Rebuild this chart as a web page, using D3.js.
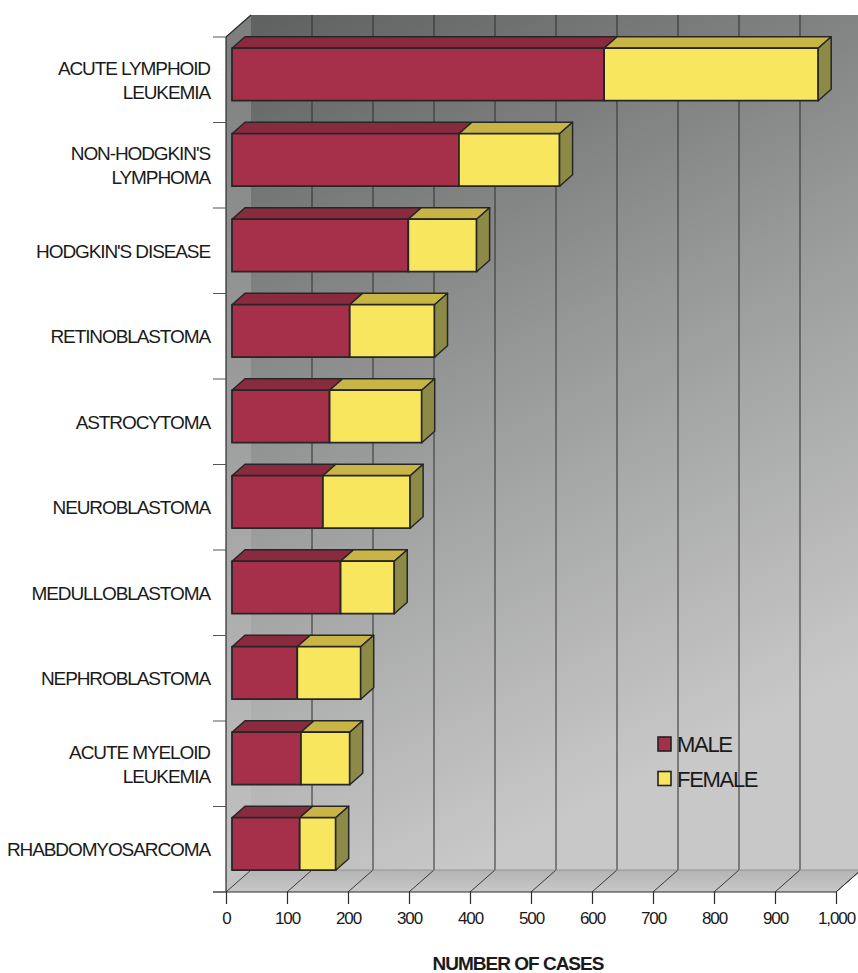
<!DOCTYPE html>
<html>
<head>
<meta charset="utf-8">
<script src="https://cdn.jsdelivr.net/npm/d3@7"></script>
<style>
  html, body { margin: 0; padding: 0; background: #ffffff; }
  svg { display: block; font-family: "Liberation Sans", Arial, Helvetica, sans-serif; }
</style>
</head>
<body>
<svg id="chart" width="858" height="973"></svg>
<script>
// Childhood cancer cases by diagnosis, split by sex ("|" marks a label line break)
const categories = [
  "ACUTE LYMPHOID|LEUKEMIA",
  "NON-HODGKIN'S|LYMPHOMA",
  "HODGKIN'S DISEASE",
  "RETINOBLASTOMA",
  "ASTROCYTOMA",
  "NEUROBLASTOMA",
  "MEDULLOBLASTOMA",
  "NEPHROBLASTOMA",
  "ACUTE MYELOID|LEUKEMIA",
  "RHABDOMYOSARCOMA"
];
const maleCases   = [610, 372, 289, 193, 160, 149, 178, 107, 113, 111];
const femaleCases = [351, 165, 112, 139, 151, 143,  88, 104,  80,  59];
const tickValues  = [0, 100, 200, 300, 400, 500, 600, 700, 800, 900, 1000];
const seriesNames = ["MALE", "FEMALE"];
const axisTitle   = "NUMBER OF CASES";

const colors = {
  male:   { front: "#a62f4a", top: "#8a2a3f", side: "#6e2233" },
  female: { front: "#f8e65e", top: "#c8b545", side: "#8c8a46" }
};

const svg = d3.select("#chart");
const defs = svg.append("defs");

// Scales for the front plane of the 3D box
const x = d3.scaleLinear().domain([0, 1000]).range([226, 836]);
const y = d3.scaleBand().domain(categories).range([37, 892])
  .paddingInner(0.386).paddingOuter(0.193);

// Oblique depth of the box, and the slice of depth the bars occupy
const depth = { dx: 25, dy: -22 };
const barFront = 0.24, barBack = 0.76;
const [yTopPlane, yBottomPlane] = y.range();

function pt(v, py, d) { return [x(v) + depth.dx * d, py + depth.dy * d]; }
const poly = pts => pts.map(p => p.join(",")).join(" ");

// Gradients for walls and floor
const gWall = defs.append("linearGradient").attr("id", "wall")
  .attr("x1", 0).attr("y1", 0).attr("x2", 0.35).attr("y2", 1);
gWall.append("stop").attr("offset", 0).attr("stop-color", "#5e615f");
gWall.append("stop").attr("offset", 0.5).attr("stop-color", "#979998");
gWall.append("stop").attr("offset", 1).attr("stop-color", "#c8c8c8");

const gSide = defs.append("linearGradient").attr("id", "side")
  .attr("x1", 0).attr("y1", 0).attr("x2", 0).attr("y2", 1);
gSide.append("stop").attr("offset", 0).attr("stop-color", "#7c7e7d");
gSide.append("stop").attr("offset", 1).attr("stop-color", "#c4c4c4");

const gFloor = defs.append("linearGradient").attr("id", "floor")
  .attr("x1", 0).attr("y1", 0).attr("x2", 0).attr("y2", 1);
gFloor.append("stop").attr("offset", 0).attr("stop-color", "#b4b4b4");
gFloor.append("stop").attr("offset", 1).attr("stop-color", "#c8c8c8");

// Back wall, left wall and floor
svg.append("polygon")
  .attr("points", poly([pt(0, yTopPlane, 1), pt(1000, yTopPlane, 1), pt(1000, yBottomPlane, 1), pt(0, yBottomPlane, 1)]))
  .attr("fill", "url(#wall)");
svg.append("polygon")
  .attr("points", poly([pt(0, yTopPlane, 0), pt(0, yTopPlane, 1), pt(0, yBottomPlane, 1), pt(0, yBottomPlane, 0)]))
  .attr("fill", "url(#side)");
svg.append("polygon")
  .attr("points", poly([pt(0, yBottomPlane, 0), pt(1000, yBottomPlane, 0), pt(1000, yBottomPlane, 1), pt(0, yBottomPlane, 1)]))
  .attr("fill", "url(#floor)");

// Gridlines on the back wall
svg.append("g").selectAll("line").data(tickValues.filter(v => v > 0)).join("line")
  .attr("x1", v => pt(v, yTopPlane, 1)[0]).attr("y1", pt(0, yTopPlane, 1)[1])
  .attr("x2", v => pt(v, yBottomPlane, 1)[0]).attr("y2", pt(0, yBottomPlane, 1)[1])
  .attr("stroke", "#2e2e2e").attr("stroke-width", 1);

// Floor diagonals from each tick to the back wall
svg.append("g").selectAll("line").data(tickValues).join("line")
  .attr("x1", v => pt(v, yBottomPlane, 0)[0]).attr("y1", yBottomPlane)
  .attr("x2", v => pt(v, yBottomPlane, 1)[0]).attr("y2", v => pt(v, yBottomPlane, 1)[1])
  .attr("stroke", "#3a3a3a").attr("stroke-width", 1);

// Back edges of floor and left wall
svg.append("line")
  .attr("x1", pt(0, yBottomPlane, 1)[0]).attr("y1", pt(0, yBottomPlane, 1)[1])
  .attr("x2", pt(1000, yBottomPlane, 1)[0]).attr("y2", pt(1000, yBottomPlane, 1)[1])
  .attr("stroke", "#8a8a8a").attr("stroke-width", 0.8);
svg.append("line")
  .attr("x1", pt(0, yTopPlane, 0)[0]).attr("y1", yTopPlane)
  .attr("x2", pt(0, yTopPlane, 1)[0]).attr("y2", pt(0, yTopPlane, 1)[1])
  .attr("stroke", "#2a2a2a").attr("stroke-width", 1.2);

// Front axes
svg.append("line")
  .attr("x1", x(0)).attr("y1", yTopPlane).attr("x2", x(0)).attr("y2", yBottomPlane)
  .attr("stroke", "#2a2a2a").attr("stroke-width", 1.2);
svg.append("line")
  .attr("x1", x(0) - 13).attr("y1", yBottomPlane).attr("x2", x(1000)).attr("y2", yBottomPlane)
  .attr("stroke", "#2a2a2a").attr("stroke-width", 1.2);
svg.append("line")
  .attr("x1", x(1000)).attr("y1", yBottomPlane)
  .attr("x2", pt(1000, yBottomPlane, 1)[0]).attr("y2", pt(1000, yBottomPlane, 1)[1])
  .attr("stroke", "#3a3a3a").attr("stroke-width", 1);

// Bottom axis ticks and labels via d3.axisBottom
const xAxis = d3.axisBottom(x).tickValues(tickValues).tickSize(12).tickPadding(8)
  .tickFormat(d3.format(","));
const gx = svg.append("g").attr("transform", `translate(0,${yBottomPlane})`).call(xAxis);
gx.select(".domain").remove();
gx.selectAll(".tick line").attr("stroke", "#2a2a2a").attr("stroke-width", 1.2);
gx.selectAll(".tick text")
  .attr("fill", "#1a1a1a").attr("font-size", 17).attr("letter-spacing", -1.1)
  .attr("font-family", "'Liberation Sans', Arial, sans-serif");

// Left ticks at category boundaries
const step = y.step();
const boundaries = d3.range(categories.length + 1).map(i => yTopPlane + i * step);
svg.append("g").selectAll("line").data(boundaries).join("line")
  .attr("x1", x(0) - 13).attr("x2", x(0))
  .attr("y1", d => d).attr("y2", d => d)
  .attr("stroke", "#555").attr("stroke-width", 1);

// Category labels
const labels = svg.append("g");
categories.forEach(c => {
  const lines = c.split("|");
  const cy = y(c) - y.step() * y.paddingInner() / 2 + step / 2;
  const lh = 24;
  const t = labels.append("text")
    .attr("text-anchor", "end")
    .attr("font-size", 19).attr("letter-spacing", -1.1).attr("fill", "#1a1a1a");
  lines.forEach((ln, j) => {
    t.append("tspan").attr("x", 210)
      .attr("y", cy + (j - (lines.length - 1) / 2) * lh + 7)
      .text(ln);
  });
});

// 3D stacked bars
const bars = svg.append("g");
categories.forEach((c, i) => {
  const yT = y(c), yB = y(c) + y.bandwidth();
  const segs = [
    { v0: 0, v1: maleCases[i], col: colors.male },
    { v0: maleCases[i], v1: maleCases[i] + femaleCases[i], col: colors.female }
  ];
  const g = bars.append("g");
  segs.forEach(s => {
    g.append("polygon")
      .attr("points", poly([pt(s.v0, yT, barFront), pt(s.v1, yT, barFront), pt(s.v1, yT, barBack), pt(s.v0, yT, barBack)]))
      .attr("fill", s.col.top).attr("stroke", "#262626").attr("stroke-width", 1.5).attr("stroke-linejoin", "round");
    g.append("polygon")
      .attr("points", poly([pt(s.v0, yT, barFront), pt(s.v1, yT, barFront), pt(s.v1, yB, barFront), pt(s.v0, yB, barFront)]))
      .attr("fill", s.col.front).attr("stroke", "#262626").attr("stroke-width", 1.8).attr("stroke-linejoin", "round");
  });
  const last = segs[segs.length - 1];
  const tot = last.v1;
  g.append("polygon")
    .attr("points", poly([pt(tot, yT, barFront), pt(tot, yT, barBack), pt(tot, yB, barBack), pt(tot, yB, barFront)]))
    .attr("fill", last.col.side).attr("stroke", "#262626").attr("stroke-width", 1.5).attr("stroke-linejoin", "round");
});

// Axis title
svg.append("text")
  .attr("x", 518).attr("y", 970)
  .attr("text-anchor", "middle").attr("font-size", 19).attr("font-weight", "bold")
  .attr("letter-spacing", -1).attr("fill", "#1a1a1a")
  .text(axisTitle);

// Legend
const legend = svg.append("g").attr("transform", "translate(658,737)");
const legendColors = [colors.male.front, colors.female.front];
seriesNames.forEach((name, i) => {
  const row = legend.append("g").attr("transform", `translate(0,${i * 34.5})`);
  row.append("rect").attr("width", 13).attr("height", 14)
    .attr("fill", legendColors[i]).attr("stroke", "#222").attr("stroke-width", 1.6);
  row.append("text").attr("x", 19).attr("y", 15)
    .attr("font-size", 22).attr("letter-spacing", -1.3).attr("fill", "#1a1a1a")
    .text(name);
});
</script>
</body>
</html>
